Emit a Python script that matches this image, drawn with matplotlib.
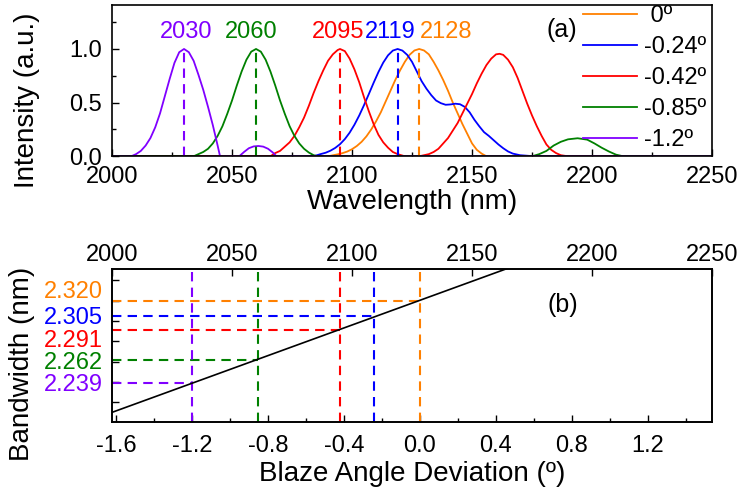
import numpy as np
import matplotlib
matplotlib.use('Agg')
import matplotlib.pyplot as plt
from matplotlib.ticker import MultipleLocator, NullFormatter

plt.rcParams['font.family'] = ['Liberation Sans', 'DejaVu Sans']

# blaze angle deviation (deg) and the matching series labels
angles = [0.0, -0.24, -0.42, -0.85, -1.2]
labels = [' 0º', '-0.24º', '-0.42º', '-0.85º', '-1.2º']
colors = ['#FF8000', '#0000FF', '#FF0000', '#008000', '#8000FF']

# peak wavelength (nm) and bandwidth (nm) for each angle
peaks = [2128, 2119, 2095, 2060, 2030]
bandwidth = [2.320, 2.305, 2.291, 2.262, 2.239]

# spectra, normalised intensity vs wavelength (nm)
wl_0 = [2000, 2090, 2094, 2096, 2098, 2100, 2102, 2104, 2106, 2108, 2110, 2112, 2114,
        2116, 2118, 2120, 2122, 2124, 2126, 2128, 2130, 2132, 2134, 2136, 2138, 2140,
        2142, 2144, 2146, 2148, 2150, 2152, 2154, 2156, 2250]
int_0 = [0, 0, 0.018, 0.029, 0.044, 0.066, 0.096, 0.135, 0.186, 0.25, 0.325, 0.41, 0.51,
         0.61, 0.71, 0.80, 0.88, 0.946, 0.986, 1.0, 0.986, 0.95, 0.88, 0.80, 0.71, 0.61,
         0.50, 0.40, 0.30, 0.21, 0.12, 0.06, 0.025, 0, 0]

wl_024 = [2000, 2084, 2087, 2089, 2091, 2093, 2095, 2097, 2099, 2101, 2103, 2105, 2107,
          2109, 2111, 2113, 2115, 2117, 2119, 2121, 2123, 2125, 2127, 2129, 2131, 2133,
          2135, 2137, 2139, 2141, 2143, 2145, 2147, 2149, 2151, 2153, 2155, 2157, 2159,
          2161, 2163, 2165, 2167, 2170, 2176, 2250]
int_024 = [0, 0, 0.021, 0.033, 0.052, 0.078, 0.113, 0.16, 0.22, 0.294, 0.38, 0.477, 0.58,
           0.685, 0.785, 0.873, 0.941, 0.985, 1.0, 0.985, 0.945, 0.88, 0.79, 0.70, 0.63,
           0.57, 0.52, 0.495, 0.48, 0.483, 0.49, 0.485, 0.46, 0.41, 0.34, 0.28, 0.225,
           0.19, 0.15, 0.11, 0.075, 0.045, 0.025, 0.01, 0, 0]

wl_042 = [2000, 2066, 2068, 2070, 2072, 2074, 2076, 2078, 2080, 2082, 2084, 2086, 2088,
          2090, 2092, 2094, 2095, 2097, 2099, 2101, 2103, 2105, 2107, 2109, 2111, 2113,
          2115, 2117, 2119, 2122, 2128, 2130, 2132, 2134, 2136, 2138, 2140, 2142, 2144,
          2146, 2148, 2150, 2152, 2154, 2156, 2158, 2160, 2161.5, 2163, 2165, 2167, 2169,
          2171, 2173, 2175, 2177, 2179, 2181, 2183, 2185, 2187, 2190, 2250]
int_042 = [0, 0, 0.03, 0.05, 0.09, 0.13, 0.19, 0.27, 0.36, 0.47, 0.59, 0.70, 0.80,
           0.89, 0.95, 0.99, 1.0, 0.98, 0.91, 0.81, 0.69, 0.55, 0.42, 0.30, 0.20, 0.13,
           0.08, 0.04, 0.02, 0, 0, 0.01, 0.02, 0.04, 0.07, 0.12, 0.17, 0.24, 0.31,
           0.40, 0.49, 0.58, 0.68, 0.77, 0.85, 0.91, 0.95, 0.955, 0.945, 0.90, 0.83, 0.73,
           0.61, 0.49, 0.38, 0.28, 0.19, 0.11, 0.06, 0.03, 0.01, 0, 0]

wl_085 = [2000, 2034, 2036, 2038, 2040, 2042, 2044, 2046, 2048, 2050, 2052, 2054, 2056,
          2058, 2060, 2062, 2064, 2066, 2068, 2070, 2072, 2074, 2076, 2078, 2080, 2082,
          2084, 2086, 2175, 2178, 2181, 2184, 2187, 2190, 2194, 2198, 2201, 2204, 2207,
          2210, 2213, 2250]
int_085 = [0, 0, 0.02, 0.04, 0.07, 0.12, 0.19, 0.28, 0.395, 0.52, 0.66, 0.79, 0.90,
           0.975, 1.0, 0.975, 0.90, 0.79, 0.66, 0.52, 0.395, 0.28, 0.19, 0.12, 0.07, 0.035,
           0.01, 0, 0, 0.02, 0.05, 0.10, 0.135, 0.158, 0.168, 0.155, 0.12, 0.08, 0.045,
           0.015, 0, 0]

wl_12 = [2000, 2008, 2010, 2012, 2014, 2016, 2018, 2020, 2022, 2024, 2026, 2028, 2030,
         2032, 2034, 2036, 2038, 2040, 2042, 2044, 2045, 2053, 2055, 2057, 2059, 2061,
         2063, 2065, 2067, 2068.5, 2250]
int_12 = [0, 0, 0.02, 0.05, 0.10, 0.17, 0.27, 0.40, 0.56, 0.72, 0.87, 0.97, 1.0,
          0.97, 0.89, 0.76, 0.62, 0.46, 0.29, 0.10, 0, 0, 0.04, 0.075, 0.092, 0.096,
          0.09, 0.07, 0.035, 0, 0]

spectra = [(wl_0, int_0), (wl_024, int_024), (wl_042, int_042),
           (wl_085, int_085), (wl_12, int_12)]

# horizontal nudges for the peak labels so they don't collide
label_shift = [11, -3, -1, -2, 1]
# vertical spots (axes fraction) for the bandwidth labels in (b)
bw_label_y = [0.850, 0.680, 0.530, 0.388, 0.240]

fs = 17
dash = (4.5, 3)

fig = plt.figure(figsize=(7.39, 4.93), dpi=100)
ax1 = fig.add_axes([0.1516, 0.6830, 0.8119, 0.3069])
ax2 = fig.add_axes([0.1516, 0.1440, 0.8119, 0.3103])

# ---- (a) spectra ----
for (wl, inten), lab, c in zip(spectra, labels, colors):
    ax1.plot(wl, inten, color=c, lw=1.3, label=lab)

for (wl, inten), pk, c, dx in zip(spectra, peaks, colors, label_shift):
    ax1.vlines(pk, 0, max(inten), colors=c, lw=1.5, linestyles=(0, dash))
    ax1.text(pk + dx, 1.155, str(pk), color=c, fontsize=fs, ha='center', va='center')

ax1.set_xlim(2000, 2250)
ax1.set_ylim(0, 1.41)
ax1.xaxis.set_major_locator(MultipleLocator(50))
ax1.xaxis.set_minor_locator(MultipleLocator(25))
ax1.yaxis.set_major_locator(MultipleLocator(0.5))
ax1.yaxis.set_minor_locator(MultipleLocator(0.25))
ax1.tick_params(which='both', direction='in', top=False, right=False, labelsize=fs, width=1)
ax1.tick_params(which='major', length=5, pad=7)
ax1.tick_params(which='minor', length=3)
ax1.set_xlabel('Wavelength (nm)', fontsize=20)
ax1.set_ylabel('Intensity (a.u.)', fontsize=20)
ax1.xaxis.set_label_coords(0.5, -0.215)
ax1.yaxis.set_label_coords(-0.12, 0.37)
ax1.text(0.75, 0.835, '(a)', transform=ax1.transAxes, fontsize=18, ha='center', va='center')
ax1.legend(loc='upper left', bbox_to_anchor=(0.785, 1.0), frameon=False, fontsize=fs,
           handlelength=2.3, handletextpad=0.3, labelspacing=0.38, borderpad=0,
           borderaxespad=0)

# ---- (b) bandwidth vs blaze angle ----
xlo, xhi = -1.62, 1.537
fit = np.polyfit(angles, bandwidth, 1)
xs = np.array([xlo, xhi])
ax2.plot(xs, np.polyval(fit, xs), color='black', lw=1.2, zorder=3)

for a, bw, c, ly in zip(angles, bandwidth, colors, bw_label_y):
    ax2.axvline(a, color=c, lw=1.5, linestyle=(0, dash))
    ax2.hlines(bw, xlo, a, colors=c, lw=1.5, linestyles=(0, dash))
    ax2.text(-0.015, ly, f'{bw:.3f}', transform=ax2.transAxes, color=c,
             fontsize=fs, ha='right', va='center')

ax2.set_xlim(xlo, xhi)
ax2.set_ylim(2.2006, 2.351)
ax2.xaxis.set_major_locator(MultipleLocator(0.4))
ax2.xaxis.set_minor_locator(MultipleLocator(0.2))
ax2.xaxis.set_major_formatter(plt.FuncFormatter(lambda v, p: f'{v:.1f}'))
ax2.yaxis.set_major_locator(MultipleLocator(0.02))
ax2.yaxis.set_major_formatter(NullFormatter())
ax2.tick_params(which='both', direction='in', top=False, right=False, labelsize=fs, width=1)
ax2.tick_params(axis='x', which='major', length=5, pad=9)
ax2.tick_params(axis='x', which='minor', length=3)
ax2.tick_params(axis='y', which='major', length=5)
ax2.set_xlabel('Blaze Angle Deviation (º)', fontsize=20)
ax2.set_ylabel('Bandwidth (nm)', fontsize=20)
ax2.xaxis.set_label_coords(0.5, -0.255)
ax2.yaxis.set_label_coords(-0.128, 0.38)
ax2.text(0.752, 0.765, '(b)', transform=ax2.transAxes, fontsize=18, ha='center', va='center')

# wavelength scale along the top of (b)
ax2t = ax2.twiny()
ax2t.set_xlim(2000, 2250)
ax2t.xaxis.set_major_locator(MultipleLocator(50))
ax2t.tick_params(direction='in', length=5, width=1, labelsize=fs, pad=2)

for ax in (ax1, ax2, ax2t):
    for s in ax.spines.values():
        s.set_linewidth(1.2)

fig.savefig('out.png', dpi=100)
